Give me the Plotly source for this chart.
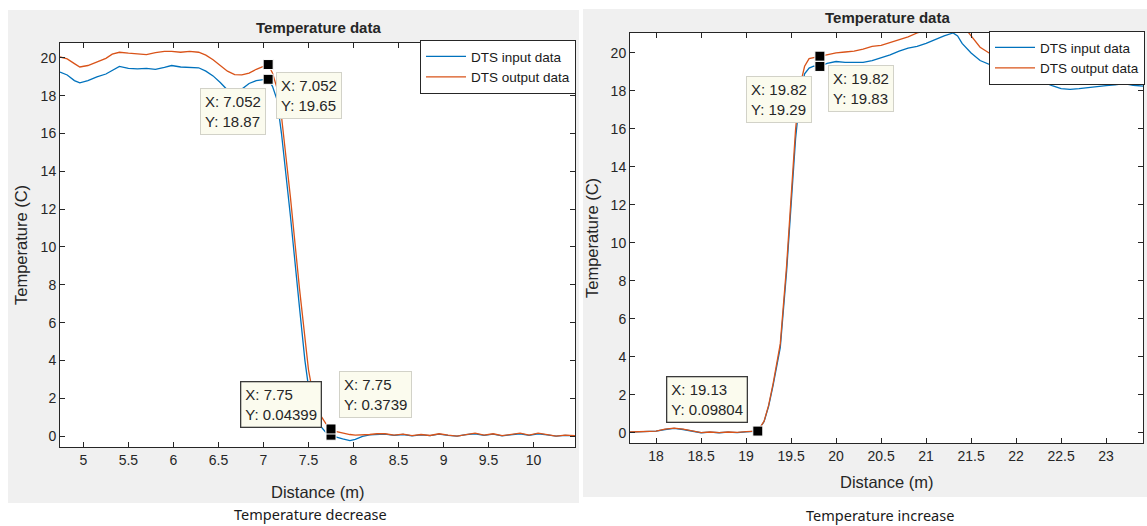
import plotly.graph_objects as go

W, H = 1147, 526

# ---------------- data ----------------
# Left: temperature decrease
dec_x = [4.74, 4.82, 4.9, 4.96, 5.05, 5.15, 5.25, 5.32, 5.4, 5.5, 5.6, 5.7, 5.8, 5.9, 5.98,
         6.08, 6.18, 6.28, 6.36, 6.44, 6.52, 6.6, 6.68, 6.76, 6.84, 6.92, 7.0, 7.052,
         7.1, 7.15, 7.2, 7.3, 7.4, 7.46, 7.5, 7.55, 7.62, 7.7, 7.75, 7.8, 7.88, 7.96,
         8.02, 8.1, 8.18, 8.26, 8.35, 8.45, 8.55, 8.65, 8.75, 8.85, 8.95, 9.05, 9.15,
         9.25, 9.35, 9.45, 9.55, 9.65, 9.75, 9.85, 9.95, 10.05, 10.15, 10.25, 10.35, 10.46]
dec_in = [19.25, 19.1, 18.8, 18.68, 18.8, 19.0, 19.15, 19.35, 19.55, 19.45, 19.42, 19.45, 19.4,
          19.5, 19.6, 19.52, 19.5, 19.48, 19.3, 19.05, 18.7, 18.3, 18.2, 18.35, 18.65, 18.8,
          18.85, 18.87, 18.5, 17.8, 16.0, 11.6, 6.8, 4.0, 2.6, 1.4, 0.6, 0.15, 0.044, -0.05,
          -0.15, -0.24, -0.18, -0.02, 0.06, 0.08, 0.1, 0.04, 0.08, 0.01, 0.06, 0.02, 0.1, 0.03,
          0.0, 0.07, 0.12, 0.04, 0.1, 0.01, 0.07, 0.12, 0.04, 0.12, 0.06, -0.01, 0.04, 0.01]
dec_out = [20.05, 19.95, 19.7, 19.52, 19.6, 19.78, 19.98, 20.2, 20.3, 20.25, 20.2, 20.18, 20.28,
           20.35, 20.35, 20.3, 20.35, 20.3, 20.15, 19.9, 19.6, 19.3, 19.12, 19.1, 19.2, 19.4,
           19.55, 19.65, 19.2, 18.4, 16.9, 12.6, 7.8, 5.0, 3.5, 2.2, 1.2, 0.6, 0.3739, 0.25,
           0.15, 0.08, 0.05, 0.06, 0.08, 0.12, 0.12, 0.05, 0.1, 0.02, 0.08, 0.03, 0.12, 0.05,
           0.0, 0.08, 0.15, 0.05, 0.12, 0.02, 0.08, 0.15, 0.05, 0.15, 0.08, 0.0, 0.05, 0.02]

# Right: temperature increase
inc_x = [17.71, 17.8, 17.9, 18.0, 18.1, 18.2, 18.3, 18.4, 18.5, 18.6, 18.7, 18.8, 18.9, 19.0,
         19.07, 19.13, 19.2, 19.25, 19.3, 19.38, 19.45, 19.5, 19.55, 19.6, 19.65, 19.7, 19.75,
         19.82, 19.9, 20.0, 20.1, 20.2, 20.3, 20.4, 20.5, 20.6, 20.7, 20.8, 20.9, 21.0, 21.1,
         21.2, 21.3, 21.35, 21.4, 21.5, 21.6, 21.7, 21.8, 21.9, 22.0, 22.1, 22.2, 22.3, 22.4,
         22.5, 22.6, 22.7, 22.8, 22.9, 23.0, 23.1, 23.2, 23.3, 23.41]
inc_in = [0.04, 0.05, 0.04, 0.09, 0.18, 0.24, 0.18, 0.08, 0.01, 0.04, 0.01, 0.04, 0.02, 0.06,
          0.07, 0.098, 0.6, 1.4, 2.5, 4.5, 8.5, 12.0, 15.5, 17.8, 18.9, 19.2, 19.3,
          19.29, 19.45, 19.55, 19.5, 19.5, 19.5, 19.6, 19.75, 19.9, 20.1, 20.25, 20.35, 20.5, 20.7,
          20.9, 21.05, 20.9, 20.5, 20.0, 19.6, 19.4, 19.2, 19.0, 18.9, 18.8, 18.65, 18.45, 18.28,
          18.12, 18.08, 18.12, 18.18, 18.22, 18.28, 18.32, 18.38, 18.3, 18.25]
inc_out = [0.05, 0.06, 0.05, 0.1, 0.2, 0.25, 0.2, 0.1, 0.02, 0.05, 0.02, 0.05, 0.03, 0.07,
           0.08, 0.098, 0.62, 1.45, 2.6, 4.7, 8.8, 12.4, 16.0, 18.3, 19.3, 19.7, 19.75,
           19.83, 19.9, 20.0, 20.05, 20.1, 20.2, 20.35, 20.4, 20.55, 20.7, 20.85, 21.05, 21.2, 21.4,
           21.6, 21.7, 21.65, 21.5, 20.9, 20.3, 20.0, 19.8, 19.7, 19.6, 19.5, 19.4, 19.3, 19.2,
           19.1, 19.05, 19.08, 19.12, 19.15, 19.2, 19.22, 19.25, 19.2, 19.15]

series_names = ["DTS input data", "DTS output data"]

# datatips
tip_dec_x = [7.052, 7.052, 7.75, 7.75]
tip_dec_y = [18.87, 19.65, 0.04399, 0.3739]
tip_inc_x = [19.82, 19.82, 19.13]
tip_inc_y = [19.29, 19.83, 0.09804]

x_ticks_dec = [5, 5.5, 6, 6.5, 7, 7.5, 8, 8.5, 9, 9.5, 10]
x_ticks_inc = [18, 18.5, 19, 19.5, 20, 20.5, 21, 21.5, 22, 22.5, 23]
y_ticks = [0, 2, 4, 6, 8, 10, 12, 14, 16, 18, 20]

captions = ["Temperature decrease", "Temperature increase"]

# ---------------- styling ----------------
BLUE = "#0072BD"
ORANGE = "#D95319"
AX = "#262626"
GRAY = "#f0f0f0"
FONT = "Liberation Sans, Arial, sans-serif"


def PX(x):
    return x / W


def PY(y):
    return 1 - y / H


fig = go.Figure()

# traces, left
fig.add_trace(go.Scatter(x=dec_x, y=dec_in, mode="lines", name=series_names[0],
                         line=dict(color=BLUE, width=1.3), xaxis="x", yaxis="y", legend="legend"))
fig.add_trace(go.Scatter(x=dec_x, y=dec_out, mode="lines", name=series_names[1],
                         line=dict(color=ORANGE, width=1.3), xaxis="x", yaxis="y", legend="legend"))
# traces, right
fig.add_trace(go.Scatter(x=inc_x, y=inc_in, mode="lines", name=series_names[0],
                         line=dict(color=BLUE, width=1.3), xaxis="x2", yaxis="y2", legend="legend2"))
fig.add_trace(go.Scatter(x=inc_x, y=inc_out, mode="lines", name=series_names[1],
                         line=dict(color=ORANGE, width=1.3), xaxis="x2", yaxis="y2", legend="legend2"))

# datatip markers
fig.add_trace(go.Scatter(x=tip_dec_x, y=tip_dec_y, mode="markers", showlegend=False,
                         marker=dict(symbol="square", size=10, color="black",
                                     line=dict(color="white", width=1)),
                         cliponaxis=False, xaxis="x", yaxis="y"))
fig.add_trace(go.Scatter(x=tip_inc_x, y=tip_inc_y, mode="markers", showlegend=False,
                         marker=dict(symbol="square", size=10, color="black",
                                     line=dict(color="white", width=1)),
                         cliponaxis=False, xaxis="x2", yaxis="y2"))

# datatip boxes: (xanchor, yanchor, xshift, yshift, dark border)
dec_box = [("right", "top", -2, -9, False), ("left", "top", 8, -7, False),
           ("right", "bottom", -9, 7, True), ("left", "bottom", 8, 11, False)]
inc_box = [("right", "top", -8, -10, False), ("left", "top", 8, -9, False),
           ("right", "bottom", -10, 8, True)]

annotations = []
for xs, ys, boxes, xr, yr in [(tip_dec_x, tip_dec_y, dec_box, "x", "y"),
                              (tip_inc_x, tip_inc_y, inc_box, "x2", "y2")]:
    for xv, yv, (xa, ya, dx, dy, dark) in zip(xs, ys, boxes):
        annotations.append(dict(
            x=xv, y=yv, xref=xr, yref=yr, showarrow=False,
            text=f"X: {xv:.4g}<br>Y: {yv:.4g}", align="left",
            xanchor=xa, yanchor=ya, xshift=dx, yshift=dy,
            font=dict(family=FONT, size=15, color="#262626"),
            bgcolor="#fbfbee", bordercolor="#3a3a3a" if dark else "#d2d2c8",
            borderwidth=1.3 if dark else 1, borderpad=4))


# titles, axis labels, captions as text
def txt(s, x, y, size, bold=False, angle=0, family=FONT, color=AX):
    return dict(text=f"<b>{s}</b>" if bold else s, x=PX(x), y=PY(y), xref="paper", yref="paper",
                showarrow=False, xanchor="center", yanchor="middle", textangle=angle,
                font=dict(family=family, size=size, color=color))


annotations += [
    txt("Temperature data", 318, 27, 15, bold=True),
    txt("Temperature data", 887, 17, 15, bold=True),
    txt("Distance (m)", 318, 492, 16.5),
    txt("Distance (m)", 887, 482, 16.5),
    txt("Temperature (C)", 21, 245, 16.5, angle=-90),
    txt("Temperature (C)", 592, 238, 16.5, angle=-90),
    txt(captions[0], 310, 514, 14.5, family="Noto Sans, sans-serif", color="#1a1a1a"),
    txt(captions[1], 880, 515, 14.5, family="Noto Sans, sans-serif", color="#1a1a1a"),
]

shapes = [
    dict(type="rect", xref="paper", yref="paper", x0=PX(8), x1=PX(579), y0=PY(503), y1=PY(10),
         fillcolor=GRAY, line=dict(width=0), layer="below"),
    dict(type="rect", xref="paper", yref="paper", x0=PX(583), x1=PX(1147), y0=PY(497), y1=PY(9),
         fillcolor=GRAY, line=dict(width=0), layer="below"),
    dict(type="rect", xref="x domain", yref="y domain", x0=0, x1=1, y0=0, y1=1,
         fillcolor="white", line=dict(width=0), layer="below"),
    dict(type="rect", xref="x2 domain", yref="y2 domain", x0=0, x1=1, y0=0, y1=1,
         fillcolor="white", line=dict(width=0), layer="below"),
]


def xaxis(dom, rng, ticks, anchor):
    return dict(domain=dom, range=rng, tickvals=ticks, ticktext=[f"{t:g}" for t in ticks],
                anchor=anchor, showgrid=False, zeroline=False, showline=True, linecolor=AX,
                linewidth=1, mirror="ticks", ticks="inside", ticklen=5, tickcolor=AX,
                tickfont=dict(family=FONT, size=14, color=AX), fixedrange=True)


def yaxis(dom, rng, anchor):
    return dict(domain=dom, range=rng, tickvals=y_ticks, anchor=anchor, showgrid=False,
                zeroline=False, showline=True, linecolor=AX, linewidth=1, mirror="ticks",
                ticks="inside", ticklen=5, tickcolor=AX,
                tickfont=dict(family=FONT, size=14, color=AX), fixedrange=True)


legend_style = dict(bgcolor="white", bordercolor=AX, borderwidth=1,
                    font=dict(family=FONT, size=13.5, color="#1a1a1a"),
                    xanchor="right", yanchor="top", tracegroupgap=0, itemwidth=40)

fig.update_layout(
    width=W, height=H, autosize=False,
    margin=dict(l=0, r=0, t=0, b=0),
    paper_bgcolor="white", plot_bgcolor="white",
    xaxis=xaxis([PX(60), PX(575)], [4.74, 10.46], x_ticks_dec, "y"),
    yaxis=yaxis([PY(447), PY(43)], [-0.58, 20.79], "x"),
    xaxis2=xaxis([PX(630), PX(1143)], [17.71, 23.41], x_ticks_inc, "y2"),
    yaxis2=yaxis([PY(443), PY(33)], [-0.53, 21.05], "x2"),
    legend=dict(x=PX(576), y=PY(40), **legend_style),
    legend2=dict(x=PX(1145), y=PY(31), **legend_style),
    annotations=annotations,
    shapes=shapes,
    showlegend=True,
)

fig.write_html("out.html")
